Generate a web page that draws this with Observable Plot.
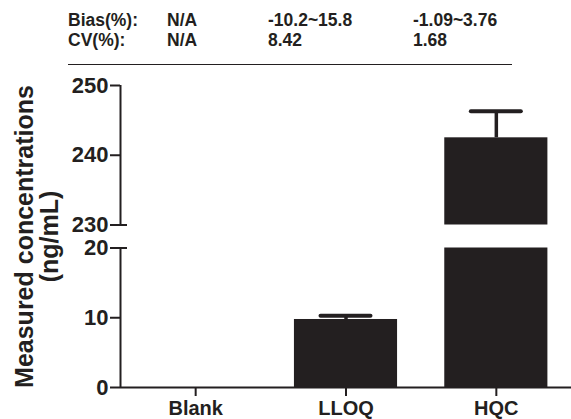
<!DOCTYPE html>
<html><head><meta charset="utf-8">
<script src="https://cdn.jsdelivr.net/npm/d3@7"></script>
<script src="https://cdn.jsdelivr.net/npm/@observablehq/plot@0.6"></script>
<style>
body{margin:0;background:#fff;}
#wrap{position:relative;width:571px;height:419px;font-family:"Liberation Sans",Arial,sans-serif;font-weight:bold;color:#231f20;overflow:hidden;}
.hd{position:absolute;font-size:17.5px;white-space:nowrap;line-height:1;}
#hrule{position:absolute;left:68px;width:444px;top:64px;height:0;border-top:1.5px solid #231f20;}
#wrap svg{position:absolute;left:0;top:0;}
</style></head><body><div id="wrap"></div>
<script>
// ---- data ----
const categories = ["Blank", "LLOQ", "HQC"];
const means = [null, 9.75, 242.5];
const sds = [null, 0.55, 3.8];
const yTicks = [0, 10, 20, 230, 240, 250];
const yBreak = [20, 230];
const yLabel = "Measured concentrations\n(ng/mL)";
const headerLabels = ["Bias(%):", "CV(%):"];
const biasValues = ["N/A", "-10.2~15.8", "-1.09~3.76"];
const cvValues = ["N/A", "8.42", "1.68"];

// ---- layout ----
const ink = "#231f20";
const W = 571, H = 419, mL = 120, mR = 0, mT = 85, mB = 32;
const yMin = 0, yMax = 250;
const gap = 23;
const frameH = H - mT - mB;
const unit = (frameH - gap) / ((yBreak[0] - yMin) + (yMax - yBreak[1]));
const xMin = -0.5, xMax = categories.length - 0.5;
const hw = 0.343; // half bar width in category units

const table = categories.map((c, i) => ({i, category: c, mean: means[i], sd: sds[i]}))
  .filter(d => d.mean != null);
const lower = table.filter(d => d.mean > yMin);
const upper = table.filter(d => d.mean > yBreak[1]);
const axisSegs = [[yMin, yBreak[0]], [yBreak[1], yMax]];

const chart = Plot.plot({
  width: W, height: H,
  marginLeft: mL, marginRight: mR, marginTop: mT, marginBottom: mB,
  style: {fontFamily: '"Liberation Sans", Arial, sans-serif', fontWeight: "bold", fontSize: "21px", color: ink, background: "transparent"},
  x: {type: "linear", domain: [xMin, xMax], axis: null},
  y: {type: "linear", domain: [yMin, yBreak[0], yBreak[1], yMax],
      range: [H - mB, H - mB - unit * (yBreak[0] - yMin), mT + unit * (yMax - yBreak[1]), mT], axis: null},
  marks: [
    Plot.rect(lower, {x1: d => d.i - hw, x2: d => d.i + hw, y1: () => yMin, y2: d => Math.min(d.mean, yBreak[0]), fill: ink}),
    Plot.rect(upper, {x1: d => d.i - hw, x2: d => d.i + hw, y1: () => yBreak[1], y2: d => d.mean, fill: ink}),
    Plot.ruleX(table, {x: "i", y1: "mean", y2: d => d.mean + d.sd, stroke: ink, strokeWidth: 3.5}),
    Plot.ruleY(table, {y: d => d.mean + d.sd, x1: "i", x2: "i", insetLeft: -25, insetRight: -25, stroke: ink, strokeWidth: 4, strokeLinecap: "round"}),
    Plot.ruleY([yMin], {stroke: ink, strokeWidth: 2}),
    Plot.ruleX(axisSegs, {x: () => xMin, y1: d => d[0], y2: d => d[1], stroke: ink, strokeWidth: 2}),
    Plot.ruleY(yBreak, {y: d => d, x1: () => xMin, x2: () => xMin, insetLeft: -10, insetRight: -7, stroke: ink, strokeWidth: 2}),
    Plot.axisY({ticks: yTicks, tickSize: 10, tickPadding: 2, label: null, stroke: ink, fill: ink, strokeWidth: 2, fontSize: 22, fontFamily: '"Liberation Sans Narrow", "Liberation Sans", Arial, sans-serif'}),
    Plot.axisX({ticks: categories.map((c, i) => i), tickFormat: i => categories[i], tickSize: 9, tickPadding: 4, label: null, stroke: ink, fill: ink, strokeWidth: 2, fontSize: 20}),
    Plot.text([yLabel], {frameAnchor: "left", rotate: -90, dx: -83, fontSize: 25, lineHeight: 1, textAnchor: "middle", lineAnchor: "middle", fill: ink})
  ]
});

const wrap = document.getElementById("wrap");
wrap.appendChild(chart);

// header table
const colX = [68, 167, 268, 413];
const rowTop = [12, 32];
const rows = [[headerLabels[0], ...biasValues], [headerLabels[1], ...cvValues]];
rows.forEach((row, r) => row.forEach((txt, c) => {
  const el = document.createElement("div");
  el.className = "hd";
  el.style.left = colX[c] + "px";
  el.style.top = rowTop[r] + "px";
  el.textContent = txt;
  wrap.appendChild(el);
}));
const hr = document.createElement("div");
hr.id = "hrule";
wrap.appendChild(hr);
</script></body></html>
